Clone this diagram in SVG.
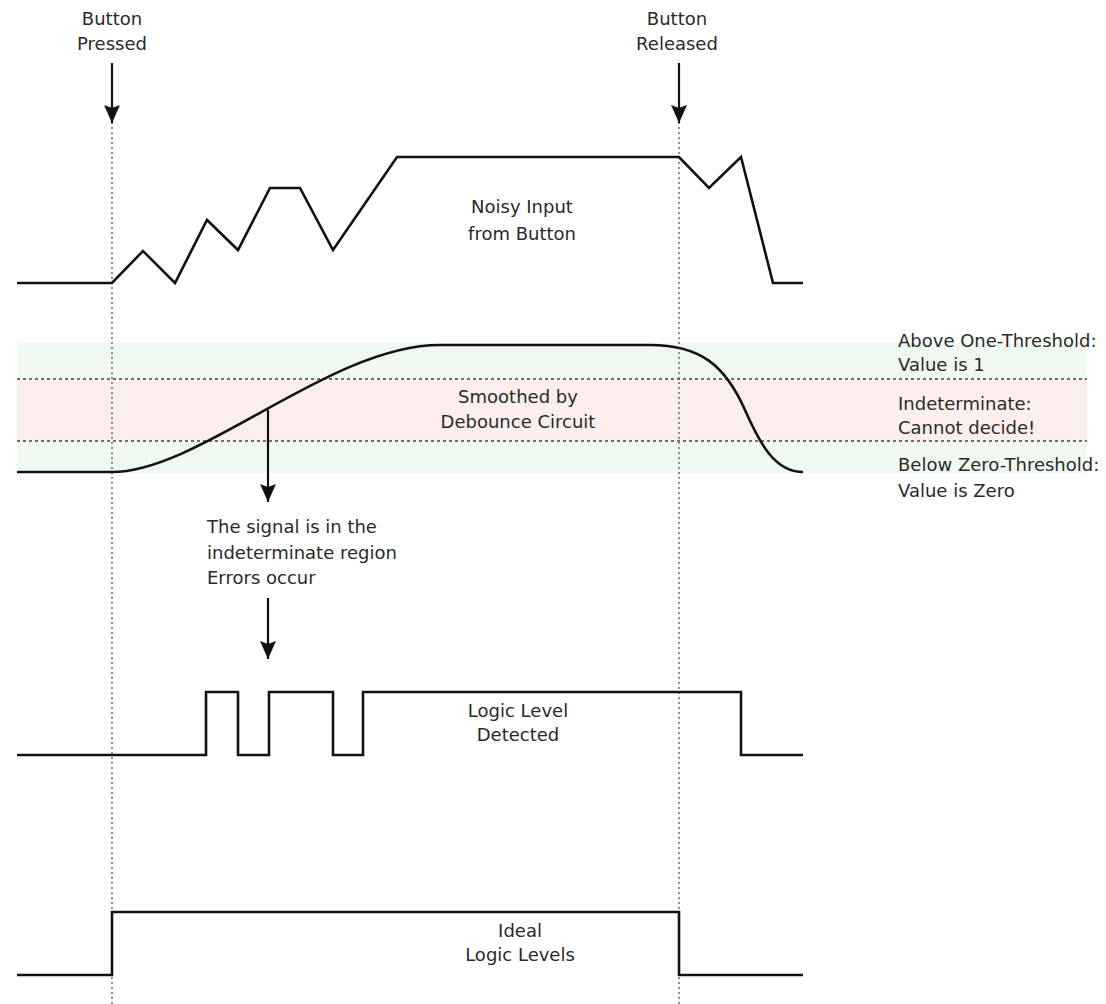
<svg xmlns="http://www.w3.org/2000/svg" width="1106" height="1004" viewBox="0 0 1106 1004">
<style>
.wave{fill:none;stroke:#111;stroke-width:2.6;stroke-linejoin:miter}
.vdot{fill:none;stroke:#555;stroke-width:1.3;stroke-dasharray:2 3}
.hdot{fill:none;stroke:#444;stroke-width:1.5;stroke-dasharray:3 3}
.arr{fill:none;stroke:#111;stroke-width:2.2}
text{font-family:"DejaVu Sans",sans-serif;font-size:18px;fill:#2a2a2a}
.c{text-anchor:middle}
</style>
<defs>
<marker id="ah" markerUnits="userSpaceOnUse" markerWidth="18" markerHeight="16" viewBox="0 0 18 16" refX="18" refY="8" orient="auto">
<path d="M0,0 L18,8 L0,16 L3,8 z" fill="#111"/>
</marker>
</defs>
<rect width="1106" height="1004" fill="#fff"/>
<g id="bands">
<rect x="17" y="343" width="1070" height="36" fill="#f0f9f0"/>
<rect x="17" y="379" width="1070" height="62" fill="#fdeeee"/>
<rect x="17" y="441" width="1070" height="32" fill="#f0f9f0"/>
<line class="hdot" x1="17" y1="379" x2="1087" y2="379"/>
<line class="hdot" x1="17" y1="441" x2="1087" y2="441"/>
</g>
<g id="markers-lines">
<line class="vdot" x1="112" y1="122" x2="112" y2="1004"/>
<line class="vdot" x1="679" y1="122" x2="679" y2="1004"/>
</g>
<g id="button-pressed">
<text class="c" x="112" y="25">Button</text>
<text class="c" x="112" y="50">Pressed</text>
</g>
<g id="button-released">
<text class="c" x="677" y="25">Button</text>
<text class="c" x="677" y="50">Released</text>
</g>
<g id="noisy-input">
<path class="wave" d="M17,283 H112 L143,251 L175,283 L207,220 L238,250 L270,188 H300 L333,250 L397,157 H679 L709,188 L741,157 L773,283 H803"/>
<text class="c" x="522" y="213">Noisy Input</text>
<text class="c" x="522" y="240">from Button</text>
</g>
<g id="smoothed">
<path class="wave" d="M17,472 H112 C200,472 330,345 440,345 H650 C700,345 725,365 745,410 C760,444 775,472 803,472"/>
<text class="c" x="518" y="403">Smoothed by</text>
<text class="c" x="518" y="428">Debounce Circuit</text>
</g>
<g id="threshold-labels">
<text x="898" y="347">Above One-Threshold:</text>
<text x="898" y="371">Value is 1</text>
<text x="898" y="410">Indeterminate:</text>
<text x="898" y="434">Cannot decide!</text>
<text x="898" y="471">Below Zero-Threshold:</text>
<text x="898" y="497">Value is Zero</text>
</g>
<g id="error-note">
<text x="207" y="533">The signal is in the</text>
<text x="207" y="559">indeterminate region</text>
<text x="207" y="584">Errors occur</text>
</g>
<g id="logic-detected">
<path class="wave" d="M17,755 H206 V692 H238 V755 H269 V692 H333 V755 H363 V692 H741 V755 H803"/>
<text class="c" x="518" y="717">Logic Level</text>
<text class="c" x="518" y="741">Detected</text>
</g>
<g id="ideal">
<path class="wave" d="M17,975 H112 V912 H679 V975 H803"/>
<text class="c" x="520" y="937">Ideal</text>
<text class="c" x="520" y="961">Logic Levels</text>
</g>
<g id="connectors">
<line class="arr" x1="112" y1="63" x2="112" y2="123" marker-end="url(#ah)"/>
<line class="arr" x1="679" y1="63" x2="679" y2="123" marker-end="url(#ah)"/>
<line class="arr" x1="268" y1="410" x2="268" y2="502" marker-end="url(#ah)"/>
<line class="arr" x1="268" y1="598" x2="268" y2="659" marker-end="url(#ah)"/>
</g>
</svg>
